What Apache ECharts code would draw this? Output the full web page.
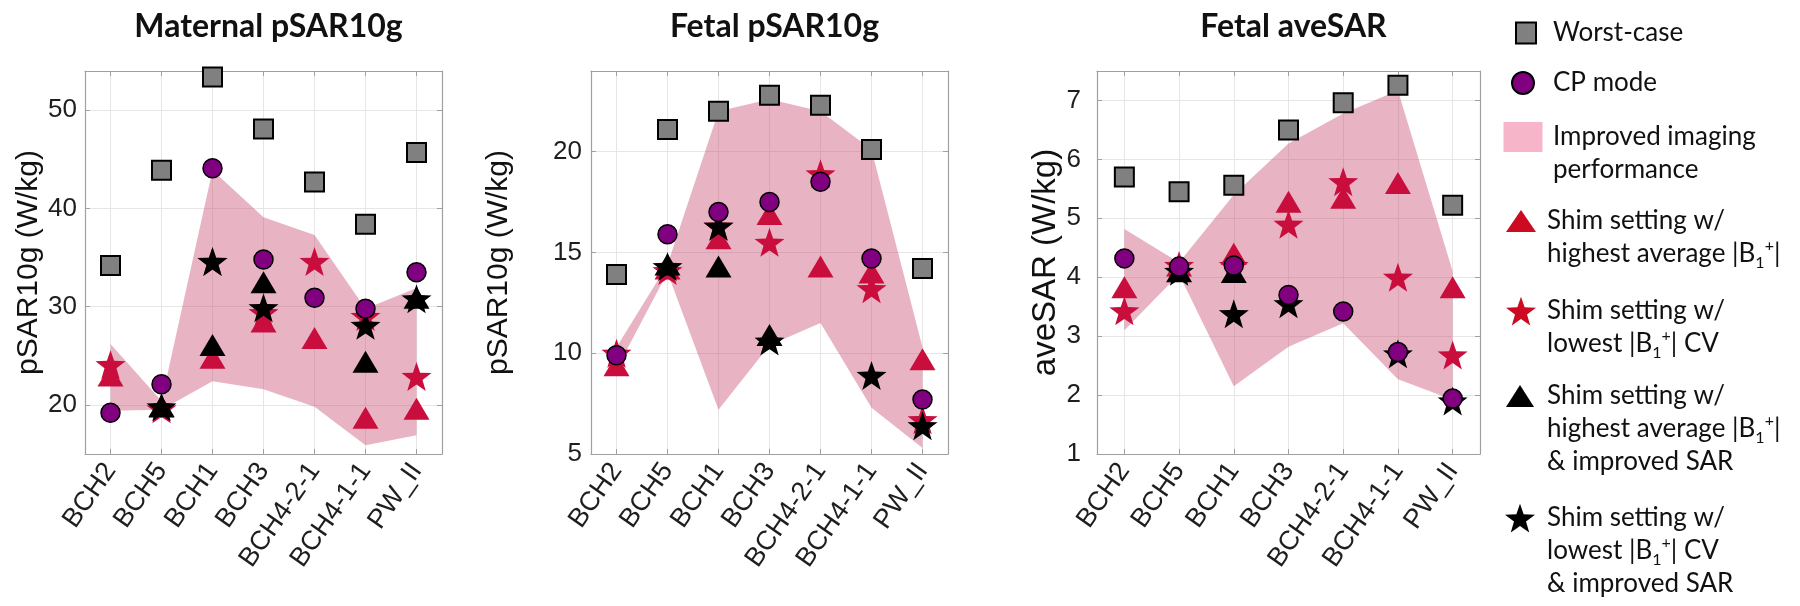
<!DOCTYPE html>
<html>
<head>
<meta charset="utf-8">
<title>SAR shim comparison</title>
<script src="https://cdn.jsdelivr.net/npm/echarts@6/dist/echarts.min.js"></script>
<style>
  html, body { margin: 0; padding: 0; background: #fff; }
  #chart { width: 1800px; height: 606px; }
</style>
</head>
<body>
<div id="chart"></div>
<script>
// Subjects on the x axis
const categories = ['BCH2', 'BCH5', 'BCH1', 'BCH3', 'BCH4-2-1', 'BCH4-1-1', 'PW_II'];

// Maternal pSAR10g (W/kg)
const maternalWorst   = [34.2, 43.9, 53.4, 48.1, 42.7, 38.4, 45.7];
const maternalCP      = [19.2, 22.1, 44.1, 34.8, 30.9, 29.8, 33.5];
const maternalRedTri  = [23.0, 19.8, 24.8, 28.5, 26.8, 18.7, 19.6];
const maternalRedStar = [24.1, 19.6, 34.6, 29.4, 34.6, 29.0, 22.9];
const maternalBlkTri  = [null, 19.9, 26.1, 32.5, null, 24.4, 30.9];
const maternalBlkStar = [null, 19.8, 34.6, 29.9, null, 28.1, 30.8];
const maternalLow     = [19.4, 19.5, 22.4, 21.6, 19.8, 15.9, 16.9];
const maternalHigh    = [26.2, 20.4, 43.9, 39.1, 37.3, 29.8, 31.9];

// Fetal pSAR10g (W/kg)
const fetalWorst   = [13.9, 21.1, 22.0, 22.8, 22.3, 20.1, 14.2];
const fetalCP      = [9.9, 15.9, 17.0, 17.5, 18.5, 14.7, 7.7];
const fetalRedTri  = [9.4, 14.2, 15.7, 16.9, 14.3, 14.0, 9.7];
const fetalRedStar = [10.0, 14.1, 16.3, 15.5, 18.9, 13.2, 6.7];
const fetalBlkTri  = [null, 14.4, 14.3, 10.9, null, null, null];
const fetalBlkStar = [null, 14.3, 16.3, 10.6, null, 8.9, 6.4];
const fetalLow     = [9.2, 14.0, 7.2, 10.4, 11.5, 7.3, 5.3];
const fetalHigh    = [10.3, 14.4, 22.0, 22.6, 22.0, 20.1, 10.3];

// Fetal aveSAR (W/kg)
const aveWorst   = [5.70, 5.45, 5.56, 6.50, 6.96, 7.26, 5.22];
const aveCP      = [4.32, 4.18, 4.20, 3.70, 3.42, 2.73, 1.94];
const aveRedTri  = [3.83, 4.20, 4.40, 5.28, 5.35, 5.60, 3.83];
const aveRedStar = [3.43, 4.20, 4.20, 4.90, 5.62, 4.00, 2.68];
const aveBlkTri  = [null, 4.10, 4.09, null, null, null, null];
const aveBlkStar = [null, 4.10, 3.38, 3.55, null, 2.70, 1.90];
const aveLow     = [3.10, 4.05, 2.15, 2.82, 3.22, 2.27, 1.92];
const aveHigh    = [4.82, 4.25, 5.40, 6.27, 6.78, 7.17, 4.10];

const WORST = 'Worst-case';
const CP = 'CP mode';
const BAND = 'Improved imaging performance';
const RED_TRI = 'Shim setting w/ highest average |B1+|';
const RED_STAR = 'Shim setting w/ lowest |B1+| CV';
const BLK_TRI = 'Shim setting w/ highest average |B1+| & improved SAR';
const BLK_STAR = 'Shim setting w/ lowest |B1+| CV & improved SAR';

const STAR = 'path://M12,0 L14.9,8.5 L24,8.8 L16.8,14.3 L19.4,23 L12,17.9 L4.6,23 L7.2,14.3 L0,8.8 L9.1,8.5 Z';
const RED = '#c90e3e';
const BOX = '#a0a0a0';
const GRIDLINE = '#e6e6e6';
const TEXT = '#1e1e1e';
const SANS = 'Liberation Sans, Arial, Helvetica, sans-serif';

const panels = [
    {
        title: 'Maternal pSAR10g', yName: 'pSAR10g (W/kg)', nameSize: 30, nameGap: 39, labelMargin: 8,
        rect: { left: 85, top: 71, width: 357, height: 383 },
        yMin: 15, yMax: 54, yInterval: null, showMin: false,
        worst: maternalWorst, cp: maternalCP, redTri: maternalRedTri, redStar: maternalRedStar,
        blkTri: maternalBlkTri, blkStar: maternalBlkStar, low: maternalLow, high: maternalHigh
    },
    {
        title: 'Fetal pSAR10g', yName: 'pSAR10g (W/kg)', nameSize: 30, nameGap: 77, labelMargin: 9,
        rect: { left: 591, top: 71, width: 357, height: 383 },
        yMin: 5, yMax: 24, yInterval: 5, showMin: true,
        worst: fetalWorst, cp: fetalCP, redTri: fetalRedTri, redStar: fetalRedStar,
        blkTri: fetalBlkTri, blkStar: fetalBlkStar, low: fetalLow, high: fetalHigh
    },
    {
        title: 'Fetal aveSAR', yName: 'aveSAR (W/kg)', nameSize: 33, nameGap: 27, labelMargin: 16,
        rect: { left: 1097, top: 71, width: 383, height: 383 },
        yMin: 1, yMax: 7.5, yInterval: 1, showMin: true,
        worst: aveWorst, cp: aveCP, redTri: aveRedTri, redStar: aveRedStar,
        blkTri: aveBlkTri, blkStar: aveBlkStar, low: aveLow, high: aveHigh
    }
];

// marker styles, in drawing order (last is on top)
const markers = [
    { key: 'worst', name: WORST, symbol: 'rect', size: 19, color: '#808080', border: '#000', bw: 2 },
    { key: 'redTri', name: RED_TRI, symbol: 'triangle', size: [26, 22], color: RED, border: RED, bw: 0 },
    { key: 'redStar', name: RED_STAR, symbol: STAR, size: [30, 29], color: RED, border: RED, bw: 0 },
    { key: 'blkTri', name: BLK_TRI, symbol: 'triangle', size: [26, 22], color: '#000', border: '#000', bw: 0 },
    { key: 'blkStar', name: BLK_STAR, symbol: STAR, size: [30, 29], color: '#000', border: '#000', bw: 0 },
    { key: 'cp', name: CP, symbol: 'circle', size: 19, color: '#800080', border: '#000', bw: 1.5 }
];

const grids = [], xAxes = [], yAxes = [], series = [], titles = [];

panels.forEach(function (p, i) {
    grids.push(Object.assign({ show: false, outerBoundsMode: 'none', containLabel: false }, p.rect));

    titles.push({
        text: p.title,
        left: p.rect.left + p.rect.width / 2,
        top: 6,
        textAlign: 'center',
        textStyle: { fontFamily: 'Lato', fontWeight: 'bold', fontSize: 32, color: '#111' }
    });

    // bottom category axis (used by the series)
    xAxes.push({
        gridIndex: i, type: 'category', data: categories, boundaryGap: true, position: 'bottom',
        axisLine: { show: true, lineStyle: { color: BOX, width: 1.2 } },
        axisTick: { show: true, inside: true, alignWithLabel: true, length: 5, lineStyle: { color: BOX } },
        axisLabel: { rotate: 55, interval: 0, fontSize: 27, margin: 12, color: TEXT, fontFamily: SANS },
        splitLine: { show: false }
    });
    // top axis: box edge, mirrored ticks and vertical grid lines at category centres
    xAxes.push({
        gridIndex: i, type: 'value', min: 0.5, max: 7.5, splitNumber: 7, position: 'top',
        axisLine: { show: true, onZero: false, lineStyle: { color: BOX, width: 1.2 } },
        axisTick: { show: true, inside: true, length: 5, lineStyle: { color: BOX } },
        axisLabel: { show: false },
        splitLine: { show: true, lineStyle: { color: GRIDLINE, width: 1 } }
    });

    const yLeft = {
        gridIndex: i, type: 'value', min: p.yMin, max: p.yMax, position: 'left',
        name: p.yName, nameLocation: 'middle', nameGap: p.nameGap,
        nameTextStyle: { fontSize: p.nameSize, color: '#111', fontFamily: SANS },
        axisLine: { show: true, onZero: false, lineStyle: { color: BOX, width: 1.2 } },
        axisTick: { show: true, inside: true, length: 5, lineStyle: { color: BOX } },
        axisLabel: {
            fontSize: 26, color: TEXT, margin: p.labelMargin, fontFamily: SANS,
            showMinLabel: p.showMin, showMaxLabel: false
        },
        splitLine: { show: true, lineStyle: { color: GRIDLINE, width: 1 } }
    };
    if (p.yInterval) yLeft.interval = p.yInterval;
    yAxes.push(yLeft);

    const yRight = {
        gridIndex: i, type: 'value', min: p.yMin, max: p.yMax, position: 'right',
        axisLine: { show: true, onZero: false, lineStyle: { color: BOX, width: 1.2 } },
        axisTick: { show: true, inside: true, length: 5, lineStyle: { color: BOX } },
        axisLabel: { show: false },
        splitLine: { show: false }
    };
    if (p.yInterval) yRight.interval = p.yInterval;
    yAxes.push(yRight);

    const xi = 2 * i, yi = 2 * i;

    // shaded band: invisible lower line + stacked difference with area fill
    series.push({
        type: 'line', name: 'band-base-' + i, xAxisIndex: xi, yAxisIndex: yi,
        stack: 'band' + i, data: p.low, symbol: 'none', silent: true, z: 1,
        lineStyle: { opacity: 0 }
    });
    series.push({
        type: 'line', name: BAND, xAxisIndex: xi, yAxisIndex: yi,
        stack: 'band' + i, data: p.high.map(function (h, k) { return +(h - p.low[k]).toFixed(3); }),
        symbol: 'none', silent: true, z: 1,
        lineStyle: { opacity: 0 },
        itemStyle: { color: '#f6b5c9' },
        areaStyle: { color: 'rgba(198, 68, 108, 0.4)', opacity: 1 }
    });

    markers.forEach(function (m) {
        series.push({
            type: 'scatter', name: m.name, xAxisIndex: xi, yAxisIndex: yi,
            data: p[m.key], symbol: m.symbol, symbolSize: m.size, z: 3,
            itemStyle: { color: m.color, borderColor: m.border, borderWidth: m.bw, opacity: 1 }
        });
    });
});

// legend: one component per entry so each sits where it does in the figure
const legendText = {};
legendText[WORST] = '{t|Worst-case}';
legendText[CP] = '{t|CP mode}';
legendText[BAND] = '{t|Improved imaging}\n{t|performance}';
legendText[RED_TRI] = '{t|Shim setting w/}\n{t|highest average |B}{sub|1}{sup|+}{t||}';
legendText[RED_STAR] = '{t|Shim setting w/}\n{t|lowest |B}{sub|1}{sup|+}{t|| CV}';
legendText[BLK_TRI] = '{t|Shim setting w/}\n{t|highest average |B}{sub|1}{sup|+}{t||}\n{t|& improved SAR}';
legendText[BLK_STAR] = '{t|Shim setting w/}\n{t|lowest |B}{sub|1}{sup|+}{t|| CV}\n{t|& improved SAR}';

const LH = 33;
const legendRows = [
    { name: WORST, icon: 'rect', w: 20, h: 21, cx: 1525, y1: 33, lines: 1, textX: 1552 },
    { name: CP, icon: 'circle', w: 22, h: 22, cx: 1522, y1: 83, lines: 1, textX: 1552 },
    { name: BAND, icon: 'rect', w: 39, h: 30, cx: 1523, y1: 137, lines: 2, textX: 1553,
      itemStyle: { color: '#f6b5c9', borderWidth: 0 } },
    { name: RED_TRI, icon: 'triangle', w: 30, h: 22, cx: 1521, y1: 221, lines: 2, textX: 1547,
      itemStyle: { color: '#cc0a22' } },
    { name: RED_STAR, icon: STAR, w: 30, h: 29, cx: 1521, y1: 311, lines: 2, textX: 1547,
      itemStyle: { color: '#cc0a22' } },
    { name: BLK_TRI, icon: 'triangle', w: 28, h: 22, cx: 1520, y1: 396, lines: 3, textX: 1547 },
    { name: BLK_STAR, icon: STAR, w: 30, h: 29, cx: 1520, y1: 518, lines: 3, textX: 1547 }
];

const legends = legendRows.map(function (r) {
    const left = r.cx - r.w / 2;
    const padTop = (r.lines - 1) * LH;
    const padLeft = r.textX - (left + r.w + 5);
    const item = { name: r.name, icon: r.icon };
    if (r.itemStyle) item.itemStyle = r.itemStyle;
    return {
        data: [item],
        left: left,
        top: r.y1 - (2 * r.lines - 1) * LH / 2,
        padding: 0,
        itemWidth: r.w,
        itemHeight: r.h,
        selectedMode: false,
        formatter: function (name) { return legendText[name]; },
        textStyle: {
            fontFamily: 'Lato', fontSize: 26, color: '#111', lineHeight: LH,
            padding: [padTop, 0, 0, padLeft],
            rich: {
                t: { fontFamily: 'Lato', fontSize: 26, color: '#111', lineHeight: LH },
                sub: { fontFamily: 'Lato', fontSize: 16, color: '#111', lineHeight: 18, verticalAlign: 'bottom' },
                sup: { fontFamily: 'Lato', fontSize: 16, color: '#111', lineHeight: 18, verticalAlign: 'top' }
            }
        }
    };
});

const chart = echarts.init(document.getElementById('chart'), null, { renderer: 'canvas' });
chart.setOption({
    backgroundColor: '#ffffff',
    animation: false,
    textStyle: { fontFamily: SANS },
    title: titles,
    legend: legends,
    grid: grids,
    xAxis: xAxes,
    yAxis: yAxes,
    series: series
});

window.addEventListener('resize', function () {
    chart.resize();
});
</script>
</body>
</html>
